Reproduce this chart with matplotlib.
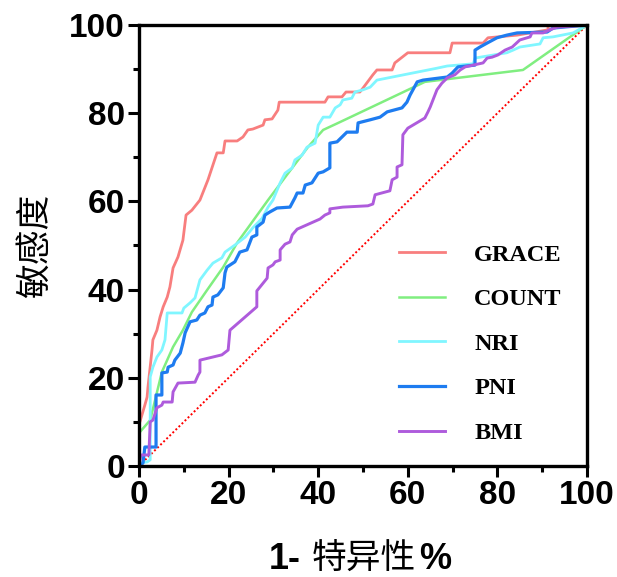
import matplotlib.pyplot as plt
from matplotlib.ticker import MultipleLocator

# ROC curves, values (1-specificity %, sensitivity %)
grace_x = [0, 0, 0.2, 1.3, 1.8, 2.0, 2.9, 3.1, 4.0, 4.7, 5.4, 6.3, 6.9, 7.6, 8.7, 9.8,
           10.5, 11.8, 13.6, 15.4, 17.4, 18.8, 19.2, 21.9, 23.2, 24.3, 25.4, 27.7, 28.1,
           29.7, 31.0, 31.3, 41.5, 42.2, 45.3, 46.2, 49.3, 50.0, 52.2, 53.1, 56.5, 57.1,
           60.0, 69.4, 69.9, 76.8, 77.9, 84.4, 91.3, 91.3, 100]
grace_y = [0, 10, 10, 13.8, 15.6, 17.9, 26.3, 28.6, 30.8, 33.8, 36.1, 38.3, 40.6, 44.9,
           47.4, 51.2, 56.9, 58.0, 60.3, 64.9, 71.0, 71.0, 73.7, 73.7, 74.6, 76.2, 76.4,
           77.3, 78.5, 78.7, 80.7, 82.5, 82.5, 83.7, 83.7, 84.8, 84.8, 85.7, 88.7, 89.8,
           89.8, 91.4, 93.7, 93.7, 95.9, 95.9, 97.1, 97.7, 98.9, 99.8, 100]

count_x = [0, 0, 0.2, 2.5, 3.6, 5.1, 7.6, 9.8, 11.8, 15.2, 18.8, 21.9, 28.8, 33.3, 37.7,
           41.1, 44.9, 63.8, 85.7, 100]
count_y = [0, 7.0, 7.7, 10.4, 15.0, 21.3, 27.0, 30.8, 34.9, 39.9, 45.1, 50.6, 60.3, 66.4,
           72.3, 76.2, 78.0, 87.1, 89.8, 100]

nri_x = [0, 0.2, 1.8, 2.5, 2.5, 3.1, 4.0, 5.1, 5.8, 6.3, 9.6, 10.0, 11.4, 12.5, 13.6,
         15.2, 16.5, 18.5, 19.2, 21.4, 23.7, 25.4, 27.5, 28.8, 29.9, 31.5, 32.6, 34.2,
         34.8, 36.4, 37.5, 39.3, 40.0, 41.1, 42.6, 43.8, 44.9, 45.5, 47.5, 48.2, 50.0,
         51.6, 53.1, 66.5, 68.8, 74.6, 75.0, 82.1, 83.5, 85.0, 89.5, 90.2, 92.4, 96.9, 100]
nri_y = [0, 0.7, 0.9, 1.4, 20.2, 22.4, 24.7, 26.3, 28.6, 34.7, 34.7, 35.8, 37.0, 38.1,
         42.2, 44.4, 46.0, 47.2, 48.5, 50.1, 51.9, 54.0, 56.2, 58.7, 60.3, 64.2, 66.4,
         67.6, 69.4, 70.5, 72.3, 73.2, 77.3, 79.1, 79.1, 81.2, 81.9, 83.0, 83.4, 84.8,
         85.3, 85.9, 87.5, 90.2, 90.7, 91.2, 92.5, 93.7, 94.3, 95.0, 95.7, 97.1, 97.3,
         98.2, 100]

pni_x = [0, 0.2, 0.9, 1.3, 3.8, 3.8, 5.1, 5.1, 6.3, 6.5, 7.6, 8.0, 9.2, 9.8, 10.3, 11.4,
         12.9, 13.6, 14.7, 15.4, 16.3, 16.5, 17.6, 18.8, 19.2, 19.6, 21.4, 22.5, 24.1,
         25.2, 26.3, 26.3, 27.7, 28.1, 29.2, 30.8, 33.7, 34.8, 35.3, 36.6, 37.1, 38.6,
         40.0, 41.1, 42.6, 42.6, 44.2, 45.3, 46.4, 48.7, 48.9, 51.6, 53.8, 55.4, 58.7,
         59.8, 60.5, 62.1, 63.4, 68.8, 69.9, 71.2, 75.0, 75.0, 76.1, 77.7, 79.9, 82.1,
         84.4, 91.1, 92.4, 100]
pni_y = [0, 0, 0.7, 4.3, 4.3, 16.1, 16.1, 21.1, 21.3, 22.4, 22.9, 24.0, 25.6, 27.9, 30.2,
         32.7, 33.1, 34.2, 34.7, 36.1, 36.5, 38.3, 38.8, 40.4, 43.8, 45.1, 46.3, 48.5,
         49.0, 51.9, 52.4, 54.2, 55.3, 56.9, 57.6, 58.5, 58.7, 60.8, 61.9, 61.9, 63.7,
         64.2, 66.4, 66.7, 67.6, 73.2, 73.5, 74.6, 75.7, 75.7, 77.8, 78.5, 79.1, 80.3,
         81.2, 82.5, 84.1, 87.1, 87.5, 88.2, 89.1, 90.5, 90.9, 94.3, 95.0, 95.9, 97.1,
         97.7, 98.2, 98.4, 99.3, 100]

bmi_x = [0, 0.4, 2.2, 2.5, 3.1, 4.0, 5.1, 5.4, 7.4, 7.6, 8.7, 12.5, 13.2, 13.6, 13.6,
         18.5, 19.9, 20.3, 23.7, 26.3, 26.3, 28.6, 28.8, 29.9, 30.4, 31.5, 31.5, 32.6,
         33.7, 34.2, 35.3, 40.4, 41.5, 42.6, 42.6, 45.5, 51.1, 52.2, 52.7, 56.0, 56.5,
         57.6, 57.6, 58.7, 58.9, 60.0, 63.8, 64.5, 65.0, 66.5, 67.6, 68.8, 70.5, 71.7,
         72.8, 76.8, 77.7, 78.8, 80.1, 81.7, 83.3, 85.0, 87.3, 87.7, 90.2, 91.7, 93.3, 100]
bmi_y = [0, 2.5, 2.5, 10.0, 10.4, 13.2, 13.8, 14.5, 14.5, 16.8, 18.8, 19.0, 20.6, 21.3,
         24.0, 25.2, 26.3, 30.8, 33.8, 36.1, 39.7, 42.6, 44.9, 45.6, 46.3, 46.7, 49.0,
         50.3, 50.8, 52.4, 53.7, 56.0, 56.9, 57.4, 58.3, 58.7, 59.0, 59.4, 61.5, 62.4,
         64.9, 65.5, 67.8, 68.3, 75.1, 76.6, 78.9, 80.3, 81.4, 85.3, 86.8, 88.0, 88.7,
         89.8, 90.5, 91.4, 92.5, 92.7, 93.2, 94.3, 95.0, 96.6, 97.3, 98.2, 98.2, 98.9,
         99.5, 100]

diag = [0, 100]

names = ["GRACE", "COUNT", "NRI", "PNI", "BMI"]
colors = ["#F87E7E", "#80EE80", "#80F6FF", "#1E7CF0", "#AE5BDC"]
widths = [2.0, 1.8, 2.0, 2.3, 2.1]
xs = [grace_x, count_x, nri_x, pni_x, bmi_x]
ys = [grace_y, count_y, nri_y, pni_y, bmi_y]

cjk = ["Noto Sans CJK SC", "DejaVu Sans"]
plt.rcParams["font.family"] = ["Liberation Sans", "Noto Sans CJK SC"]

fig = plt.figure(figsize=(6.17, 5.77), dpi=100)
ax = fig.add_axes([0.2253, 0.1924, 0.7261, 0.7643])

ax.plot(diag, diag, color="red", linestyle=(0, (1, 1.2)), lw=1.4)
for x, y, name, c, w in zip(xs, ys, names, colors, widths):
    ax.plot(x, y, color=c, lw=w, label=name)

ax.set_xlim(0, 100)
ax.set_ylim(0, 100)
ax.xaxis.set_major_locator(MultipleLocator(20))
ax.yaxis.set_major_locator(MultipleLocator(20))
ax.xaxis.set_minor_locator(MultipleLocator(10))
ax.yaxis.set_minor_locator(MultipleLocator(10))

for s in ax.spines.values():
    s.set_linewidth(2.4)
ax.tick_params(which="major", length=8, width=2.2, labelsize=24, pad=2)
ax.tick_params(which="minor", length=4.5, width=2.2)
for lab in ax.get_xticklabels() + ax.get_yticklabels():
    lab.set_fontweight("bold")

# x label: latin parts bold, chinese part regular
fig.text(301 / 617, 0.030, "1-", ha="right", va="center", fontsize=26, fontweight="bold")
fig.text(364 / 617, 0.030, "特异性", ha="center", va="center", fontsize=25, family=cjk)
fig.text(419 / 617, 0.030, "%", ha="left", va="center", fontsize=26, fontweight="bold")

ax.set_ylabel("敏感度", fontsize=25, family=cjk, labelpad=12)

leg = ax.legend(loc="center left", bbox_to_anchor=(0.58, 0.277), frameon=False,
                prop={"family": "Liberation Serif", "weight": "bold", "size": 17.5},
                handlelength=1.9, handletextpad=1.2, labelspacing=0.93,
                borderpad=0, borderaxespad=0)

fig.savefig("out.png")
